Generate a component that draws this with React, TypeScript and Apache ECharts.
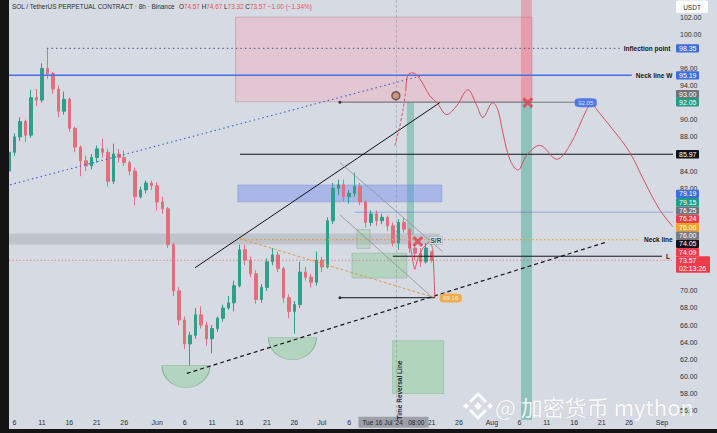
import React, { useEffect, useRef } from 'react';
import * as echarts from 'echarts';

// ---------- categories ----------
const MONTHS = ['Jan', 'Feb', 'Mar', 'Apr', 'May', 'Jun', 'Jul', 'Aug', 'Sep', 'Oct', 'Nov', 'Dec'];
const DAY_COUNT = 122; // 5 May .. 3 Sep
const LABEL_DAYS = [1, 6, 11, 16, 21, 26];
const CATEGORIES: string[] = Array.from({ length: DAY_COUNT }, (_, i) => {
  const dt = new Date(Date.UTC(2024, 4, 5 + i));
  return `${dt.getUTCDate()} ${MONTHS[dt.getUTCMonth()]}`;
});

// ---------- candles [open, close, low, high] (daily) ----------
const CANDLES: number[][] = [
  [84.0, 86.2, 83.6, 86.6], [86.2, 88.0, 85.8, 88.4], [88.0, 89.8, 87.5, 90.3], [89.8, 88.2, 87.4, 90.0],
  [88.2, 92.6, 87.9, 93.5], [92.6, 92.3, 91.6, 93.6], [92.3, 96.0, 92.0, 96.6], [96.0, 95.4, 94.8, 98.35],
  [95.4, 93.6, 93.0, 95.6], [93.6, 91.0, 90.3, 94.0], [91.0, 92.4, 90.6, 93.3], [92.4, 89.0, 88.6, 92.6],
  [89.0, 86.8, 86.2, 89.2], [86.8, 85.2, 83.4, 87.0], [85.2, 84.6, 84.0, 85.8], [84.6, 85.6, 84.2, 86.0],
  [85.6, 86.6, 85.0, 87.0], [86.6, 86.2, 85.6, 87.8], [86.2, 82.8, 82.2, 86.6], [82.8, 86.0, 82.5, 87.2],
  [86.0, 85.6, 85.0, 86.6], [85.6, 85.0, 84.6, 86.4], [85.0, 84.0, 83.5, 85.2], [84.0, 81.0, 80.0, 84.4],
  [81.0, 81.8, 80.8, 82.2], [81.8, 82.6, 81.4, 82.9], [82.6, 82.3, 81.8, 82.9], [82.3, 80.4, 79.4, 82.7],
  [80.4, 79.6, 79.0, 81.0], [79.6, 75.4, 75.0, 79.8], [75.4, 70.0, 69.4, 75.6], [70.0, 66.6, 66.0, 70.4],
  [66.6, 63.8, 63.2, 67.0], [63.8, 64.8, 61.3, 65.2], [64.8, 67.2, 64.4, 68.0], [67.2, 66.0, 65.6, 68.2],
  [66.0, 64.4, 63.6, 66.4], [64.4, 65.6, 62.7, 66.0], [65.6, 66.8, 65.2, 67.0], [66.8, 68.0, 66.4, 68.4],
  [68.0, 68.6, 67.8, 69.4], [68.6, 70.6, 67.6, 71.2], [70.6, 74.8, 70.4, 75.4], [74.8, 73.6, 73.0, 75.4],
  [73.6, 72.0, 71.6, 74.0], [72.0, 69.0, 68.5, 72.4], [69.0, 70.4, 68.6, 70.8], [70.4, 73.4, 70.0, 73.8],
  [73.4, 74.2, 73.0, 75.0], [74.2, 72.6, 72.2, 74.6], [72.6, 69.2, 68.6, 72.8], [69.2, 67.6, 66.8, 69.6],
  [67.6, 68.4, 65.0, 68.8], [68.4, 72.2, 68.0, 73.4], [72.2, 71.6, 71.2, 72.8], [71.6, 71.0, 70.4, 72.0],
  [71.0, 73.6, 70.6, 74.6], [73.6, 72.8, 72.2, 74.0], [72.8, 78.2, 72.6, 78.6], [78.2, 82.0, 77.8, 82.6],
  [82.0, 82.4, 81.2, 83.0], [82.4, 81.0, 80.4, 83.0], [81.0, 81.4, 80.2, 81.8], [81.4, 82.2, 81.0, 83.8],
  [82.2, 80.4, 80.0, 82.6], [80.4, 78.0, 77.4, 80.6], [78.0, 79.0, 77.6, 79.4], [79.0, 78.2, 77.6, 79.4],
  [78.2, 78.6, 77.8, 79.0], [78.6, 77.6, 77.0, 78.8], [77.6, 75.6, 75.2, 78.0], [75.6, 78.0, 74.8, 78.4],
  [78.0, 77.2, 76.8, 78.6], [77.2, 75.0, 74.4, 77.4], [75.0, 74.4, 73.6, 75.4], [74.4, 73.4, 72.8, 75.0],
  [73.4, 75.0, 73.2, 75.6], [74.57, 73.57, 73.32, 74.67],
];

// ---------- y axis ----------
const Y_MIN = 54;
const Y_MAX = 104;
const Y_STEP = 2;

// ---------- drawings: [day index, price] ----------
const PINK_ZONE = [[41.3, 102.0], [95.3, 92.1]];
const RED_STRIP = [[93.3, 104], [95.3, 92.1]];
const TEAL_STRIP = [[93.3, 92.1], [95.3, 54.9]];
const TEAL_STRIP_2 = [[72.5, 92.0], [73.8, 76.6]];
const BLUE_ZONE = [[41.7, 82.38], [78.9, 80.41]];
const GRAY_BAND = [[0, 76.7], [78.5, 75.42]];
const GREEN_BOX = [[69.9, 64.17], [79.2, 58.0]];
const GREEN_SMALL = [[62.5, 74.4], [72.5, 71.5]];
const GREEN_TINY = [[63.4, 77.16], [65.8, 74.96]];

const INFLECTION_LINE = [[6.9, 98.35], [111.3, 98.35]];
const NECK_W_LINE = [[0, 95.19], [113.5, 95.19]];
const LEVEL_8597 = [[42.1, 85.97], [121, 85.97]];
const BOX_BOTTOM_LINE = [[60.3, 92.05], [105.1, 92.05]];
const LEVEL_7919 = [[63.0, 79.19], [121, 79.19]];
const NECK_LINE = [[42.1, 76.0], [115, 76.0]];
const PRICE_LINE = [[0, 73.57], [121, 73.57]];
const L_LINE = [[69.95, 74.05], [119, 74.05]];
const ORANGE_DASH = [[42.1, 76.1], [77.6, 69.2]];
const LEVEL_692 = [[60.3, 69.2], [77.6, 69.2]];
const BLUE_DOTTED_TREND = [[0.2, 82.4], [74.9, 95.1]];
const TREND_UPPER = [[33.9, 72.7], [78.5, 92.0]];
const TREND_LOWER = [[32.4, 60.35], [108.6, 75.65]];
const CHANNEL_UP = [[60.3, 85.0], [79.0, 74.6]];
const CHANNEL_LO = [[60.3, 78.9], [77.2, 69.2]];
const LINE_DOTS = [[60.3, 92.05], [60.3, 69.2]];
const CROSSHAIR_DAY = 70.6;
const CROSSHAIR_LINE = [[CROSSHAIR_DAY, Y_MIN], [CROSSHAIR_DAY, Y_MAX]];
const TIME_REVERSAL_PRICE = 58.4;

const FORECAST_DASHED = [[70.31, 87.0], [71.04, 88.75], [71.77, 91.07], [72.31, 93.39]];
const FORECAST_MAIN = [
  [72.31, 93.39], [72.68, 95.25], [73.59, 95.48], [74.86, 94.78], [76.68, 92.81], [77.96, 92.0],
  [79.78, 90.61], [81.6, 91.65], [83.6, 93.51], [85.25, 91.65], [86.34, 90.26], [88.16, 92.0],
  [89.07, 91.19], [89.98, 88.52], [91.26, 85.39], [92.71, 84.12], [94.35, 85.86], [96.72, 87.01],
  [99.82, 85.39], [102.19, 87.01], [105.28, 91.19], [106.19, 92.0], [107.1, 91.19], [110.02, 88.87],
  [113.11, 86.2], [115.85, 82.72], [118.58, 79.48], [120.95, 77.51],
];
const FORECAST_NEAR = [
  [73.04, 75.77], [73.59, 73.45], [73.95, 72.52], [74.5, 73.8], [75.41, 74.96], [76.68, 75.77],
  [77.23, 74.84], [77.6, 69.16],
];

const SEMICIRCLES = [[32.24, 61.28], [51.64, 64.52]];
const X_MARKS = [[74.5, 75.77], [94.54, 92.0]];
const ALERT_ICON = [[70.5, 92.81]];
const ORANGE_TAG = [[80.5, 69.16]];
const BLUE_TAG = [[105.1, 92.0]];
const SR_TAG = [[77.8, 75.9]];

// ---------- right-axis price tags ----------
const FIXED_TAG_VALUES = [98.35, 95.19, 93.0, 92.05, 85.97];
const FIXED_TAG_COLORS = ['#3a6ee0', '#3a6ee0', '#6f737d', '#1f9e86', '#111318'];
const STACK_TAG_VALUES = [79.19, 79.15, 76.25, 76.24, 76.06, 76.0, 74.05, 74.09];
const STACK_TAG_COLORS = ['#3a6ee0', '#1f9e86', '#6f737d', '#ee3b4b', '#f4a32a', '#787b86', '#111318', '#ee3b4b'];
const COUNTDOWN = '02:13:26';
const CROSSHAIR_TEXT = "Tue 16 Jul '24   08:00";

const BG = '#d6dae2';
const FONT = '"Liberation Sans", Arial, sans-serif';
const UP = '#2f9f89';
const DOWN = '#e2707c';

function seg(data: number[][], color: string, width: number, type: any, extra: any = {}) {
  return {
    type: 'line', xAxisIndex: 1, yAxisIndex: 0, data, symbol: 'none', silent: true,
    lineStyle: { color, width, type }, z: 6, ...extra,
  };
}

function endLabel(text: string) {
  return {
    endLabel: {
      show: true, formatter: text, color: '#131722', fontSize: 6.5, fontWeight: 'bold',
      fontFamily: FONT, distance: 4,
    },
  };
}

function area(p: number[][], color: string, border = 'transparent', bw = 0) {
  return [
    { coord: p[0], itemStyle: { color, borderColor: border, borderWidth: bw } },
    { coord: p[1] },
  ];
}

function buildOption(): any {
  return {
    animation: false,
    backgroundColor: BG,
    textStyle: { fontFamily: FONT },
    grid: { left: 9, right: 44, top: -3.5, bottom: 5.25, containLabel: false },
    xAxis: [
      {
        type: 'category', data: CATEGORIES, boundaryGap: false,
        axisLine: { show: false }, axisTick: { show: false }, splitLine: { show: false },
        axisLabel: {
          inside: true, margin: 2, fontSize: 7, color: '#2a2e39', fontFamily: FONT,
          // labels under the crosshair date box are hidden, as in the reference
          interval: (i: number, v: string) =>
            LABEL_DAYS.includes(parseInt(v, 10)) && Math.abs(i - CROSSHAIR_DAY) > 6,
          formatter: (v: string) => {
            const [d, m] = v.split(' ');
            return d === '1' ? m : d;
          },
        },
      },
      { type: 'value', min: 0, max: DAY_COUNT - 1, show: false },
    ],
    yAxis: {
      type: 'value', position: 'right', min: Y_MIN, max: Y_MAX, interval: Y_STEP,
      axisLine: { show: false }, axisTick: { show: false }, splitLine: { show: false },
      axisLabel: {
        fontSize: 7, color: '#2a2e39', margin: 7, fontFamily: FONT,
        formatter: (v: number) => (v <= Y_MIN || v >= Y_MAX ? '' : v.toFixed(2)),
      },
    },
    series: [
      {
        type: 'line', xAxisIndex: 1, yAxisIndex: 0, data: [], silent: true, z: 1,
        markArea: {
          silent: true,
          data: [
            area(GRAY_BAND, 'rgba(150,153,162,0.35)'),
            area(PINK_ZONE, 'rgba(245,168,188,0.40)', 'rgba(160,120,132,0.7)', 0.6),
            area(RED_STRIP, 'rgba(232,108,124,0.45)'),
            area(TEAL_STRIP, 'rgba(70,170,145,0.50)'),
            area(TEAL_STRIP_2, 'rgba(70,170,145,0.45)'),
            area(BLUE_ZONE, 'rgba(100,130,240,0.40)', 'rgba(90,110,200,0.5)', 0.6),
            area(GREEN_BOX, 'rgba(140,205,150,0.50)', 'rgba(110,170,120,0.6)', 0.6),
            area(GREEN_SMALL, 'rgba(140,205,150,0.45)', 'rgba(120,130,140,0.6)', 0.5),
            area(GREEN_TINY, 'rgba(140,205,150,0.35)', 'rgba(120,130,140,0.6)', 0.5),
          ],
        },
      },
      {
        type: 'scatter', xAxisIndex: 1, yAxisIndex: 0, data: SEMICIRCLES, silent: true, z: 2,
        symbol: 'path://M0,0 L100,0 A50,50 0 0 1 0,0 Z', symbolSize: [48, 22], symbolOffset: [0, '50%'],
        itemStyle: { color: 'rgba(140,205,150,0.6)', borderColor: 'rgba(100,165,115,0.8)', borderWidth: 0.8 },
      },
      {
        type: 'candlestick', xAxisIndex: 0, yAxisIndex: 0, data: CANDLES, barWidth: 3, silent: true, z: 3,
        itemStyle: { color: UP, color0: DOWN, borderColor: UP, borderColor0: DOWN, borderWidth: 1 },
      },
      seg(CROSSHAIR_LINE, 'rgba(120,124,134,0.6)', 0.7, [3, 2]),
      seg(BLUE_DOTTED_TREND, '#3f5fcf', 1.1, [1.5, 3]),
      seg(INFLECTION_LINE, '#47557c', 1, [1.5, 3], endLabel('Inflection point')),
      seg(NECK_W_LINE, '#4b6fe6', 1.5, 'solid', endLabel('Neck line W')),
      seg(LEVEL_8597, '#111318', 1, 'solid'),
      seg(BOX_BOTTOM_LINE, '#5b5f6a', 0.8, 'solid'),
      seg(LEVEL_7919, 'rgba(80,110,210,0.6)', 0.8, 'solid'),
      seg(NECK_LINE, '#d9a25f', 1.2, [1.5, 2.5], endLabel('Neck line')),
      seg(PRICE_LINE, 'rgba(235,80,90,0.7)', 0.8, [1.5, 2]),
      seg(L_LINE, '#111318', 1, 'solid', endLabel('L')),
      seg(ORANGE_DASH, '#e39b4c', 1, [3, 2]),
      seg(LEVEL_692, '#111318', 1, 'solid'),
      seg(TREND_UPPER, '#111318', 1, 'solid'),
      seg(TREND_LOWER, '#111318', 1.2, [4, 3]),
      seg(CHANNEL_UP, '#8a8f99', 0.8, 'solid'),
      seg(CHANNEL_LO, '#8a8f99', 0.8, 'solid'),
      seg(FORECAST_DASHED, '#d9505c', 1, [3, 2], { smooth: 0.3 }),
      seg(FORECAST_MAIN, '#d9505c', 1, 'solid', { smooth: 0.35 }),
      seg(FORECAST_NEAR, '#e0505e', 1, 'solid', { smooth: 0.15 }),
      {
        type: 'scatter', xAxisIndex: 1, yAxisIndex: 0, data: LINE_DOTS, silent: true, z: 7,
        symbol: 'circle', symbolSize: 3, itemStyle: { color: '#111318' },
      },
      {
        type: 'scatter', xAxisIndex: 1, yAxisIndex: 0, data: X_MARKS, silent: true, z: 8,
        symbol: 'path://M2,0 L5,3 L8,0 L10,2 L7,5 L10,8 L8,10 L5,7 L2,10 L0,8 L3,5 L0,2 Z',
        symbolSize: 11, itemStyle: { color: '#e0404e' },
      },
      {
        type: 'scatter', xAxisIndex: 1, yAxisIndex: 0, data: ALERT_ICON, silent: true, z: 8,
        symbol: 'circle', symbolSize: 8, itemStyle: { color: '#cf8a63', borderColor: '#4a4a4a', borderWidth: 1.5 },
      },
      {
        type: 'scatter', xAxisIndex: 1, yAxisIndex: 0, data: ORANGE_TAG, silent: true, z: 9,
        symbol: 'roundRect', symbolSize: [22, 9], itemStyle: { color: '#f4a32a' },
        label: { show: true, position: 'inside', formatter: (p: any) => p.value[1].toFixed(2), color: '#fff', fontSize: 6, fontFamily: FONT },
      },
      {
        type: 'scatter', xAxisIndex: 1, yAxisIndex: 0, data: BLUE_TAG, silent: true, z: 9,
        symbol: 'roundRect', symbolSize: [22, 9], itemStyle: { color: '#2f64e8' },
        label: { show: true, position: 'inside', formatter: () => FIXED_TAG_VALUES[3].toFixed(2), color: '#fff', fontSize: 6, fontFamily: FONT },
      },
      {
        type: 'scatter', xAxisIndex: 1, yAxisIndex: 0, data: SR_TAG, silent: true, z: 9,
        symbol: 'rect', symbolSize: [13, 8], itemStyle: { color: '#dfe1e6', borderColor: '#9598a1', borderWidth: 0.5 },
        label: { show: true, position: 'inside', formatter: 'S/R', color: '#131722', fontSize: 6.5, fontWeight: 'bold', fontFamily: FONT },
      },
    ],
  };
}

function buildGraphic(chart: any): { graphic: any[]; spans: number[][] } {
  const py = (v: number) => chart.convertToPixel({ yAxisIndex: 0 }, v) as number;
  const px = (d: number) => chart.convertToPixel({ xAxisIndex: 1 }, d) as number;
  const H = 8.3;
  const TX = 676;
  const out: any[] = [];
  const spans: number[][] = [];
  const tag = (y: number, text: string, color: string, w = 23) => {
    spans.push([y - H / 2, y + H / 2]);
    out.push({ type: 'rect', z: 100, shape: { x: TX, y: y - H / 2, width: w, height: H, r: 1 }, style: { fill: color } });
    out.push({ type: 'text', z: 101, x: TX + 3, y, style: { text, fill: '#fff', fontSize: 7, fontFamily: FONT, align: 'left', verticalAlign: 'middle' } });
  };
  FIXED_TAG_VALUES.forEach((v, i) => tag(py(v), v.toFixed(2), FIXED_TAG_COLORS[i]));

  const last = CANDLES[CANDLES.length - 1];
  const current = last[1];
  const yc = py(current);
  spans.push([yc - H / 2, yc + 1.5 * H]);
  out.push({ type: 'rect', z: 100, shape: { x: TX, y: yc - H / 2, width: 34, height: 2 * H, r: 1 }, style: { fill: '#ee3b4b' } });
  out.push({ type: 'text', z: 101, x: TX + 3, y: yc, style: { text: current.toFixed(2), fill: '#fff', fontSize: 7, fontFamily: FONT, verticalAlign: 'middle' } });
  out.push({ type: 'text', z: 101, x: TX + 3, y: yc + H, style: { text: COUNTDOWN, fill: '#fff', fontSize: 7, fontFamily: FONT, verticalAlign: 'middle' } });
  let prev = yc;
  for (let i = STACK_TAG_VALUES.length - 1; i >= 0; i--) {
    const y = Math.min(py(STACK_TAG_VALUES[i]), prev - H);
    tag(y, STACK_TAG_VALUES[i].toFixed(2), STACK_TAG_COLORS[i]);
    prev = y;
  }

  // header
  const open = last[0], close = last[1], low = last[2], high = last[3];
  const ch = close - open;
  const pct = (ch / open) * 100;
  const sign = (n: number) => (n < 0 ? '\u2212' + Math.abs(n).toFixed(2) : '+' + n.toFixed(2));
  const HF = 6.4;
  out.push({
    type: 'text', z: 101, x: 12, y: 6.5,
    style: {
      text: `{t|SOL / TetherUS PERPETUAL CONTRACT · 8h · Binance}  {k|O}{v|${open.toFixed(2)}} {k|H}{v|${high.toFixed(2)}} {k|L}{v|${low.toFixed(2)}} {k|C}{v|${close.toFixed(2)}} {v|${sign(ch)} (${sign(pct)}%)}`,
      verticalAlign: 'middle', fontFamily: FONT, fontSize: HF,
      rich: {
        t: { fill: '#2a2e39', fontSize: HF, fontFamily: FONT },
        k: { fill: '#2a2e39', fontSize: HF, fontFamily: FONT },
        v: { fill: '#e8505c', fontSize: HF, fontFamily: FONT },
      },
    },
  });

  // USDT box
  out.push({ type: 'rect', z: 100, shape: { x: 676, y: 0.5, width: 32, height: 12.5, r: 2 }, style: { fill: '#ffffff' } });
  out.push({ type: 'text', z: 101, x: 692, y: 7, style: { text: 'USDT', fill: '#2a2e39', fontSize: 6.5, fontFamily: FONT, align: 'center', verticalAlign: 'middle' } });

  // crosshair label + vertical text
  const cx = px(CROSSHAIR_DAY);
  const axisY = py(Y_MIN);
  out.push({ type: 'rect', z: 100, shape: { x: cx - 38, y: axisY - 11, width: 70, height: 11 }, style: { fill: '#9da0a8' } });
  out.push({ type: 'text', z: 101, x: cx - 3, y: axisY - 5.5, style: { text: CROSSHAIR_TEXT, fill: '#1e222d', fontSize: 6.5, fontFamily: FONT, align: 'center', verticalAlign: 'middle' } });
  out.push({
    type: 'text', z: 101, x: cx + 3, y: py(TIME_REVERSAL_PRICE), rotation: Math.PI / 2,
    style: { text: 'Time Reversal Line', fill: '#1e222d', fontSize: 6.5, fontWeight: 'bold', fontFamily: FONT, align: 'center', verticalAlign: 'middle' },
  });

  // watermark
  const wm = 'rgba(255,255,255,0.88)';
  out.push({
    type: 'group', x: 478, y: 406, z: 110,
    children: [
      { type: 'polygon', shape: { points: [[0, -4], [4, 0], [0, 4], [-4, 0]] }, style: { fill: wm } },
      { type: 'polyline', shape: { points: [[-8, -4], [0, -12], [8, -4]] }, style: { stroke: wm, lineWidth: 3, fill: 'none' } },
      { type: 'polyline', shape: { points: [[-8, 4], [0, 12], [8, 4]] }, style: { stroke: wm, lineWidth: 3, fill: 'none' } },
      { type: 'polygon', shape: { points: [[-12, -3], [-9, 0], [-12, 3], [-15, 0]] }, style: { fill: wm } },
      { type: 'polygon', shape: { points: [[12, -3], [15, 0], [12, 3], [9, 0]] }, style: { fill: wm } },
    ],
  });
  out.push({
    type: 'text', z: 110, x: 495, y: 406,
    style: { text: '@ 加密货币 mython', fill: wm, fontSize: 22, fontFamily: '"Noto Sans CJK SC", "Noto Sans", sans-serif', verticalAlign: 'middle', stroke: 'rgba(150,155,165,0.35)', lineWidth: 0.6 },
  });
  return { graphic: out, spans };
}

export default function App() {
  const ref = useRef<HTMLDivElement>(null);
  useEffect(() => {
    document.body.style.margin = '0';
    const chart = echarts.init(ref.current as HTMLDivElement, undefined, { renderer: 'svg' });
    chart.setOption(buildOption());
    const { graphic, spans } = buildGraphic(chart);
    const covered = (v: number) => {
      const y = chart.convertToPixel({ yAxisIndex: 0 }, v) as number;
      return spans.some(([a, b]) => y > a && y < b);
    };
    chart.setOption({
      graphic,
      yAxis: {
        axisLabel: {
          formatter: (v: number) => (v <= Y_MIN || v >= Y_MAX || covered(v) ? '' : v.toFixed(2)),
        },
      },
    });
    return () => chart.dispose();
  }, []);
  return (
    <div style={{ position: 'fixed', left: 0, top: 0, width: 717, height: 433, overflow: 'hidden', background: BG }}>
      <div ref={ref} style={{ position: 'absolute', left: 0, top: 0, width: 717, height: 433 }} />
      <div style={{ position: 'absolute', left: 0, top: 0, width: 9, height: 433, background: '#141414' }} />
      <div style={{ position: 'absolute', left: 0, top: 429, width: 717, height: 4, background: '#141414' }} />
    </div>
  );
}
